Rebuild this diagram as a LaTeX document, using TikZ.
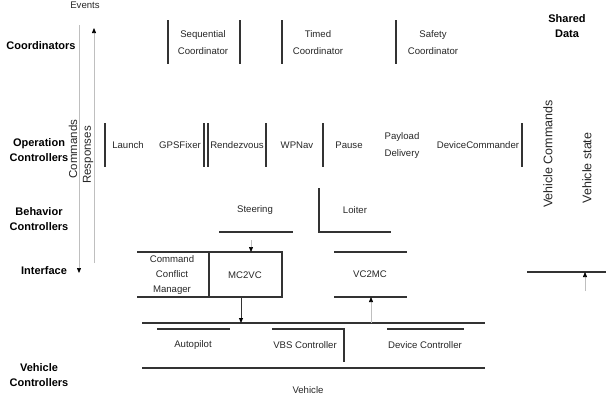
\documentclass[tikz,border=0pt]{standalone}
\usepackage{fontspec}
\setmainfont{Liberation Sans}
\usetikzlibrary{arrows.meta}
\begin{document}
\begin{tikzpicture}[x=1pt,y=-1pt,
  layer/.style={font=\bfseries\fontsize{11}{15}\selectfont, align=center, text=black},
  item/.style={font=\fontsize{9.6}{15}\selectfont, align=center, text=black!85, inner sep=1pt},
  tall/.style={font=\fontsize{9.6}{17}\selectfont},
  side/.style={font=\fontsize{11.5}{14}\selectfont},
  bar/.style={line width=1.1pt, draw=black!80},
  flow/.style={draw=black!25, line width=0.7pt},
  tipdown/.style={-{Triangle[length=5pt,width=4pt,color=black]}},
]
\useasboundingbox (0,0) rectangle (606,402);

% ---- layer titles
\node[layer] (tCoord) at (41,46) {Coordinators};
\node[layer] (tOper) at (39,150) {Operation\\Controllers};
\node[layer] (tBeh) at (39,219) {Behavior\\Controllers};
\node[layer] (tIface) at (44,271) {Interface};
\node[layer] (tVeh) at (39,375) {Vehicle\\Controllers};
\node[layer] (tShared) at (567,26) {Shared\\Data};

% ---- command / response flows on the left
\node[item] (events) at (85,5) {Events};
\coordinate (cmdTop) at (79,25);
\coordinate (cmdBot) at (79,273);
\coordinate (rspBot) at (94,263);
\coordinate (rspTop) at (94,28);
\draw[flow, tipdown] (cmdTop) -- (cmdBot);
\draw[flow, tipdown] (rspBot) -- (rspTop);
\node[item, side, rotate=90] (cmds) at (73,149) {Commands};
\node[item, side, rotate=90] (resp) at (88,155) {Responses};

% ---- coordinators
\foreach \x in {168,240,282,396}
  \draw[bar] (\x,20) -- (\x,64);
\node[item, tall] (seq) at (203,43) {Sequential\\Coordinator};
\node[item, tall] (timed) at (318,43) {Timed\\Coordinator};
\node[item, tall] (safe) at (433,43) {Safety\\Coordinator};

% ---- operation controllers
\foreach \x in {105,204,208,266,323,522}
  \draw[bar] (\x,123) -- (\x,167);
\node[item] (launch) at (128,145) {Launch};
\node[item] (gps) at (180,145) {GPSFixer};
\node[item] (rdv) at (237,145) {Rendezvous};
\node[item] (wpnav) at (297,145) {WPNav};
\node[item] (pause) at (349,145) {Pause};
\node[item, tall] (payload) at (402,146) {Payload\\Delivery};
\node[item] (devcmd) at (478,145) {DeviceCommander};

% ---- shared data
\node[item, font=\fontsize{12.5}{14}\selectfont, rotate=90] (vcmd) at (548,154) {Vehicle Commands};
\node[item, font=\fontsize{12.5}{14}\selectfont, rotate=90] (vstate) at (587,168) {Vehicle state};

% ---- behavior controllers
\node[item] (steer) at (255,210) {Steering};
\draw[bar] (219,232) -- (293,232);
\node[item] (loiter) at (355,210) {Loiter};
\draw[bar] (319,188) -- (319,232) -- (391,232);

% ---- interface
\draw[bar] (137,252) -- (282,252) -- (282,297) -- (137,297);
\draw[bar] (209,252) -- (209,297);
\node[item] (ccm) at (172,275) {Command\\Conflict\\Manager};
\node[item] (mc2vc) at (245,275) {MC2VC};
\draw[bar] (334,252) -- (407,252);
\draw[bar] (334,297) -- (407,297);
\node[item] (vc2mc) at (370,274) {VC2MC};
\draw[bar] (527,272) -- (606,272);

% ---- vehicle controllers
\draw[bar] (142,323) -- (485,323);
\draw[bar] (157,329) -- (230,329);
\draw[bar] (272,329) -- (344,329) -- (344,362);
\draw[bar] (387,329) -- (464,329);
\draw[bar] (142,368) -- (485,368);
\node[item] (auto) at (193,345) {Autopilot};
\node[item] (vbs) at (305,345) {VBS Controller};
\node[item] (devctl) at (425,345) {Device Controller};
\node[item] (veh) at (308,390) {Vehicle};

% ---- data flows between layers
\coordinate (steerOut) at (251,240);
\coordinate (mcIn) at (251,252);
\coordinate (mcOut) at (241,297);
\coordinate (busIn) at (241,323);
\coordinate (busOut) at (371,323);
\coordinate (vcIn) at (371,297);
\coordinate (stIn) at (585,291);
\coordinate (stTop) at (585,272);
\draw[flow, tipdown] (steerOut) -- (mcIn);
\draw[bar, line width=0.9pt, tipdown] (mcOut) -- (busIn);
\draw[flow, tipdown] (busOut) -- (vcIn);
\draw[flow, tipdown] (stIn) -- (stTop);
\end{tikzpicture}
\end{document}
